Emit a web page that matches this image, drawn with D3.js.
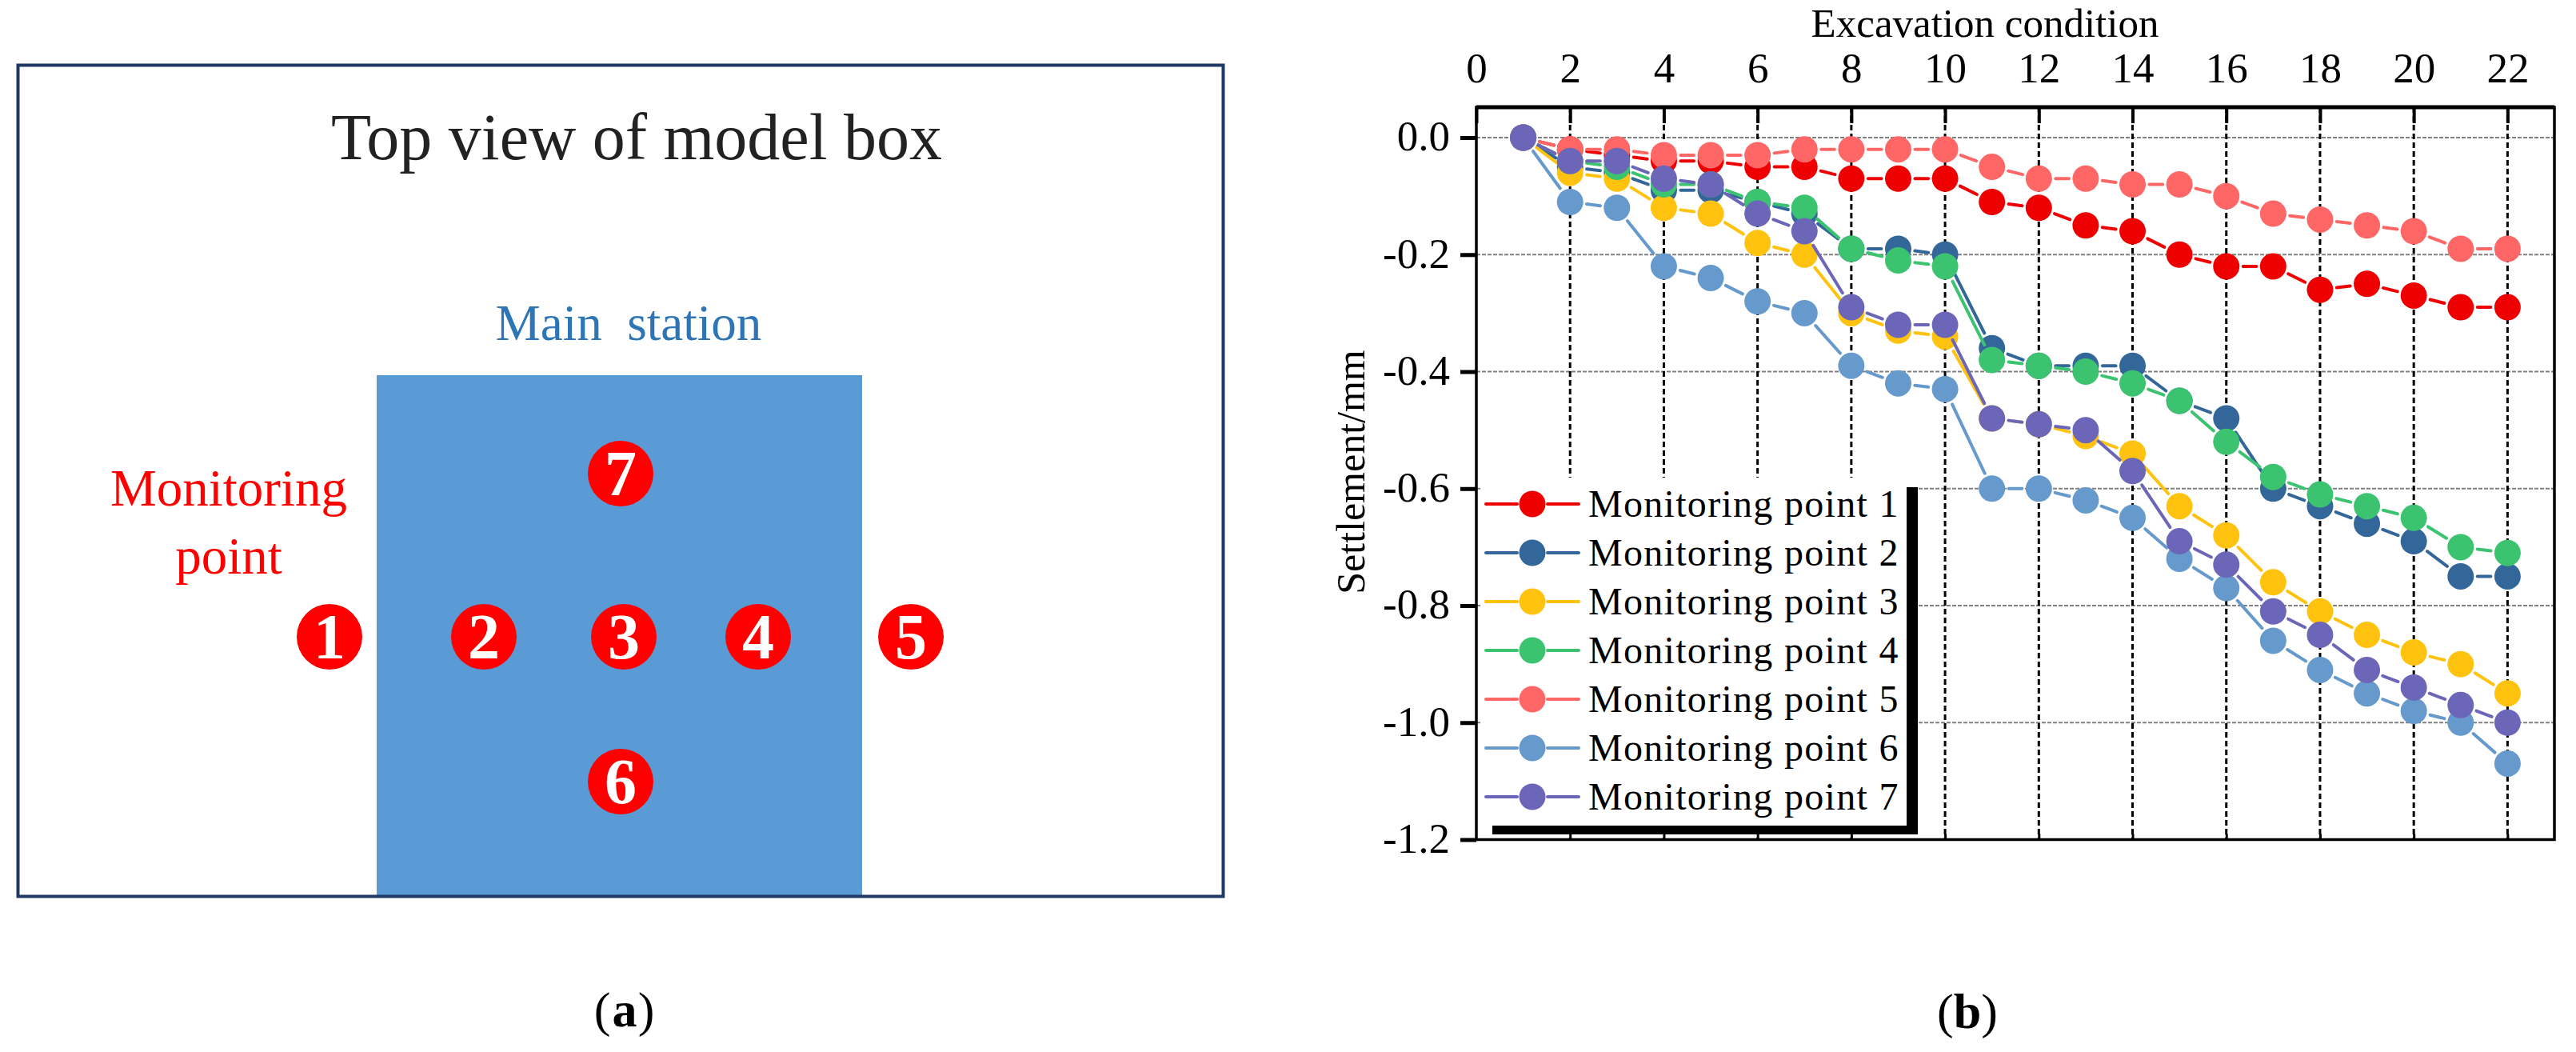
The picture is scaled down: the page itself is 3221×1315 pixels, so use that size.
<!DOCTYPE html>
<html>
    <head>
        <title>Monitoring point settlement</title>
        <meta charset="utf-8" />
        <script src="https://d3js.org/d3.v7.min.js"></script>
        <style>
            body {
                margin: 0;
                background-color: white;
            }
            svg {
                display: block;
            }
            text {
                font-family: 'Liberation Serif', serif;
            }
        </style>
    </head>
    <body>
        <svg></svg>
        <script>
            const conditions = [1, 2, 3, 4, 5, 6, 7, 8, 9, 10, 11, 12, 13, 14, 15, 16, 17, 18, 19, 20, 21, 22]
            const point1 = [0, -0.02, -0.03, -0.04, -0.04, -0.05, -0.05, -0.07, -0.07, -0.07, -0.11, -0.12, -0.15, -0.16, -0.2, -0.22, -0.22, -0.26, -0.25, -0.27, -0.29, -0.29]
            const point2 = [0, -0.05, -0.06, -0.09, -0.09, -0.11, -0.13, -0.19, -0.19, -0.2, -0.36, -0.39, -0.39, -0.39, -0.45, -0.48, -0.6, -0.63, -0.66, -0.69, -0.75, -0.75]
            const point3 = [0, -0.06, -0.07, -0.12, -0.13, -0.18, -0.2, -0.3, -0.33, -0.34, -0.48, -0.49, -0.51, -0.54, -0.63, -0.68, -0.76, -0.81, -0.85, -0.88, -0.9, -0.95]
            const point4 = [0, -0.04, -0.05, -0.08, -0.08, -0.11, -0.12, -0.19, -0.21, -0.22, -0.38, -0.39, -0.4, -0.42, -0.45, -0.52, -0.58, -0.61, -0.63, -0.65, -0.7, -0.71]
            const point5 = [0, -0.02, -0.02, -0.03, -0.03, -0.03, -0.02, -0.02, -0.02, -0.02, -0.05, -0.07, -0.07, -0.08, -0.08, -0.1, -0.13, -0.14, -0.15, -0.16, -0.19, -0.19]
            const point6 = [0, -0.11, -0.12, -0.22, -0.24, -0.28, -0.3, -0.39, -0.42, -0.43, -0.6, -0.6, -0.62, -0.65, -0.72, -0.77, -0.86, -0.91, -0.95, -0.98, -1, -1.07]
            const point7 = [0, -0.04, -0.04, -0.07, -0.08, -0.13, -0.16, -0.29, -0.32, -0.32, -0.48, -0.49, -0.5, -0.57, -0.69, -0.73, -0.81, -0.85, -0.91, -0.94, -0.97, -1]

            const seriesNames = ['Monitoring point 1', 'Monitoring point 2', 'Monitoring point 3', 'Monitoring point 4', 'Monitoring point 5', 'Monitoring point 6', 'Monitoring point 7']
            const seriesValues = [point1, point2, point3, point4, point5, point6, point7]
            const seriesColors = ['#ee0000', '#336699', '#ffc30f', '#3cc370', '#ff6666', '#6699cc', '#6c66b8']

            const xTicks = [0, 2, 4, 6, 8, 10, 12, 14, 16, 18, 20, 22]
            const yTicks = [0, -0.2, -0.4, -0.6, -0.8, -1, -1.2]
            const yTickLabels = ['0.0', '-0.2', '-0.4', '-0.6', '-0.8', '-1.0', '-1.2']

            const svg = d3.select('svg').attr('width', 3221).attr('height', 1315)

            // panel (a), the sketch of the box
            const sketchPoints = ['1', '2', '3', '4', '5', '6', '7']
            const sketchX = [412, 605, 780, 948, 1139, 776, 776]
            const sketchY = [796, 796, 796, 796, 796, 977, 592]

            const sketch = svg.append('g')
            sketch.append('rect')
                .attr('x', 471).attr('y', 469)
                .attr('width', 607).attr('height', 652)
                .style('fill', '#5b9bd5')
            sketch.append('rect')
                .attr('x', 22.5).attr('y', 81.5)
                .attr('width', 1507).attr('height', 1039)
                .style('fill', 'none')
                .style('stroke', '#1f3864')
                .style('stroke-width', 4)

            function sketchText(str, x, y, size, color) {
                return sketch.append('text')
                    .attr('x', x).attr('y', y)
                    .attr('text-anchor', 'middle')
                    .style('font-size', size + 'px')
                    .style('fill', color)
                    .style('white-space', 'pre')
                    .text(str)
            }
            sketchText('Top view of model box', 796, 199, 82, '#222222')
            sketchText('Main  station', 786, 425, 63, '#2e75b6')
            sketchText('Monitoring', 286, 632, 65, '#ff0000')
            sketchText('point', 286, 717, 65, '#ff0000')

            sketchPoints.forEach((p, i) => {
                sketch.append('circle')
                    .attr('cx', sketchX[i]).attr('cy', sketchY[i]).attr('r', 41)
                    .style('fill', '#ff0000')
                sketchText(p, sketchX[i], sketchY[i] + 27, 80, 'white').style('font-weight', 'bold')
            })

            sketchText('(', 753, 1283, 62, 'black')
            sketchText('a', 781, 1283, 62, 'black').style('font-weight', 'bold')
            sketchText(')', 808, 1283, 62, 'black')

            // panel (b), the chart
            const xScale = d3.scaleLinear().domain([0, 23]).range([1846, 3194])
            const yScale = d3.scaleLinear().domain([0.052, -1.2]).range([134, 1049.5])
            const [plotLeft, plotRight] = xScale.range()
            const [plotTop, plotBottom] = yScale.range()

            const chart = svg.append('g')

            yTicks.slice(0, -1).forEach((t) => {
                chart.append('line')
                    .attr('x1', plotLeft).attr('x2', plotRight)
                    .attr('y1', yScale(t)).attr('y2', yScale(t))
                    .style('stroke', '#808080')
                    .style('stroke-width', 2)
                    .style('stroke-dasharray', '5 2')
            })
            xTicks.slice(1).forEach((t) => {
                chart.append('line')
                    .attr('x1', xScale(t)).attr('x2', xScale(t))
                    .attr('y1', plotTop).attr('y2', plotBottom)
                    .style('stroke', 'black')
                    .style('stroke-width', 3)
                    .style('stroke-dasharray', '7 4')
            })

            // legend box goes over the grid, the black bars are its shadow
            const legendX = 1851
            const legendY = 597
            chart.append('rect')
                .attr('x', 1866).attr('y', 609)
                .attr('width', 532).attr('height', 434)
                .style('fill', 'black')
            chart.append('rect')
                .attr('x', legendX).attr('y', legendY)
                .attr('width', 533).attr('height', 435)
                .style('fill', 'white')

            // axes, the x ticks point into the plot
            const xAxisTop = chart.append('g')
                .attr('transform', `translate(0,${plotTop})`)
                .call(d3.axisTop(xScale).tickValues(xTicks).tickSize(-20).tickPadding(31).tickFormat(d3.format('d')))
            const xAxisBottom = chart.append('g')
                .attr('transform', `translate(0,${plotBottom})`)
                .call(d3.axisBottom(xScale).tickValues(xTicks.slice(1)).tickSize(-7).tickFormat(''))
            const yAxis = chart.append('g')
                .attr('transform', `translate(${plotLeft},0)`)
                .call(d3.axisLeft(yScale).tickValues(yTicks).tickSize(20).tickPadding(13).tickFormat((d, i) => yTickLabels[i]))
            xAxisTop.select('.domain').remove()
            xAxisBottom.select('.domain').remove()
            yAxis.select('.domain').remove()
            xAxisTop.selectAll('line').style('stroke-width', 4)
            xAxisBottom.selectAll('line').style('stroke-width', 3)
            yAxis.selectAll('line').style('stroke-width', 5)
            chart.selectAll('.tick text')
                .style('font-family', "'Liberation Serif', serif")
                .style('font-size', '53px')
                .style('fill', 'black')
            yAxis.selectAll('text').attr('dy', '0.3em')

            chart.append('rect')
                .attr('x', plotLeft).attr('y', plotTop)
                .attr('width', plotRight - plotLeft).attr('height', plotBottom - plotTop)
                .style('fill', 'none')
                .style('stroke', 'black')
                .style('stroke-width', 3.5)
            chart.append('line')
                .attr('x1', plotLeft).attr('x2', plotRight)
                .attr('y1', plotTop).attr('y2', plotTop)
                .style('stroke', 'black')
                .style('stroke-width', 5)

            chart.append('text')
                .attr('x', 2482).attr('y', 46)
                .attr('text-anchor', 'middle')
                .style('font-size', '51px')
                .text('Excavation condition')
            chart.append('text')
                .attr('transform', 'translate(1706,590) rotate(-90)')
                .attr('text-anchor', 'middle')
                .style('font-size', '50px')
                .text('Settlement/mm')
            chart.append('text')
                .attr('x', 2460).attr('y', 1285)
                .attr('text-anchor', 'middle')
                .style('font-size', '62px')
                .html('(<tspan font-weight="bold">b</tspan>)')

            // lines stop short of the markers, that is the white gap in the picture
            const markerRadius = 16.5
            const lineGap = 21

            seriesValues.forEach((values, s) => {
                const g = chart.append('g')
                d3.pairs(d3.zip(conditions, values)).forEach(([a, b]) => {
                    const x1 = xScale(a[0])
                    const y1 = yScale(a[1])
                    const x2 = xScale(b[0])
                    const y2 = yScale(b[1])
                    const len = Math.hypot(x2 - x1, y2 - y1)
                    const ux = (x2 - x1) / len
                    const uy = (y2 - y1) / len
                    g.append('line')
                        .attr('x1', x1 + ux * lineGap).attr('y1', y1 + uy * lineGap)
                        .attr('x2', x2 - ux * lineGap).attr('y2', y2 - uy * lineGap)
                        .style('stroke', seriesColors[s])
                        .style('stroke-width', 4)
                        .style('stroke-linecap', 'round')
                })
                g.selectAll('circle')
                    .data(values)
                    .enter()
                    .append('circle')
                    .attr('cx', (d, i) => xScale(conditions[i]))
                    .attr('cy', (d) => yScale(d))
                    .attr('r', markerRadius)
                    .style('fill', seriesColors[s])
            })

            // legend entries
            const legendScale = d3.scalePoint()
                .domain(seriesNames)
                .range([630, 996])
            seriesNames.forEach((name, s) => {
                const y = legendScale(name)
                const keyLine = [[1858, 1897], [1935, 1974]]
                keyLine.forEach(([x1, x2]) => {
                    chart.append('line')
                        .attr('x1', x1).attr('x2', x2)
                        .attr('y1', y).attr('y2', y)
                        .style('stroke', seriesColors[s])
                        .style('stroke-width', 4)
                        .style('stroke-linecap', 'round')
                })
                chart.append('circle')
                    .attr('cx', 1916).attr('cy', y).attr('r', markerRadius)
                    .style('fill', seriesColors[s])
                chart.append('text')
                    .attr('x', 1986).attr('y', y + 16)
                    .style('font-size', '48px')
                    .style('letter-spacing', '1.3px')
                    .text(name)
            })
        </script>
    </body>
</html>
